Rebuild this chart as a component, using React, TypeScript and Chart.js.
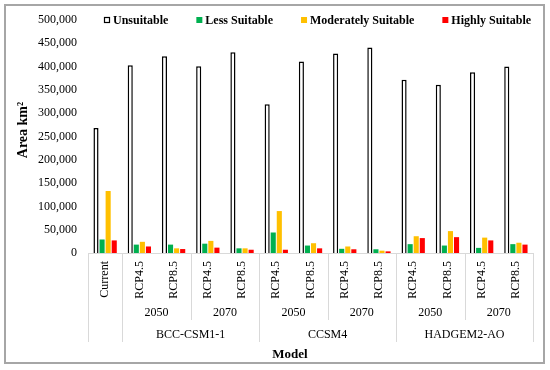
import React, { useEffect, useRef } from 'react';
import { Chart, registerables } from 'chart.js';

Chart.register(...registerables);

const categories = ['Current', 'RCP4.5', 'RCP8.5', 'RCP4.5', 'RCP8.5', 'RCP4.5', 'RCP8.5', 'RCP4.5', 'RCP8.5', 'RCP4.5', 'RCP8.5', 'RCP4.5', 'RCP8.5'];
const yearLabels = ['', '2050', '2050', '2070', '2070', '2050', '2050', '2070', '2070', '2050', '2050', '2070', '2070'];
const modelLabels = ['', 'BCC-CSM1-1', 'BCC-CSM1-1', 'BCC-CSM1-1', 'BCC-CSM1-1', 'CCSM4', 'CCSM4', 'CCSM4', 'CCSM4', 'HADGEM2-AO', 'HADGEM2-AO', 'HADGEM2-AO', 'HADGEM2-AO'];

const unsuitable = [268000, 403000, 422000, 401000, 431000, 319000, 411000, 428000, 441000, 372000, 361000, 388000, 400000];
const lessSuitable = [29000, 18000, 18000, 20000, 10000, 44000, 16000, 9000, 8000, 19000, 16000, 11000, 19000];
const moderatelySuitable = [133000, 24000, 10000, 26000, 10000, 90000, 21000, 14000, 5000, 36000, 47000, 33000, 22000];
const highlySuitable = [27000, 14000, 8500, 11500, 7000, 7000, 10000, 8000, 3500, 32000, 34000, 27000, 18000];

const seriesNames = ['Unsuitable', 'Less Suitable', 'Moderately Suitable', 'Highly Suitable'];
const seriesColors = ['#FFFFFF', '#00B050', '#FFC000', '#FF0000'];

const yAxisTitle = 'Area km²';
const xAxisTitle = 'Model';

const SERIF = '"Liberation Serif", "Times New Roman", serif';

const hierPlugin = {
  id: 'hier',
  afterDraw(chart: any) {
    const ctx = chart.ctx as CanvasRenderingContext2D;
    const xs = chart.scales.x;
    const area = chart.chartArea;
    const n = categories.length;
    const half = (xs.getPixelForValue(1) - xs.getPixelForValue(0)) / 2;
    const base = area.bottom;
    const yearBottom = base + 67;
    const modelBottom = base + 89;

    ctx.save();
    // separators
    ctx.strokeStyle = '#d9d9d9';
    ctx.lineWidth = 1;
    const vline = (x: number, bottom: number) => {
      ctx.beginPath();
      ctx.moveTo(Math.round(x) + 0.5, base);
      ctx.lineTo(Math.round(x) + 0.5, bottom);
      ctx.stroke();
    };
    vline(xs.getPixelForValue(0) - half, modelBottom);
    vline(xs.getPixelForValue(n - 1) + half, modelBottom);
    for (let i = 0; i < n - 1; i++) {
      const bx = xs.getPixelForValue(i) + half;
      if (modelLabels[i] !== modelLabels[i + 1]) vline(bx, modelBottom);
      else if (yearLabels[i] !== yearLabels[i + 1]) vline(bx, yearBottom);
    }

    // level 1 rotated labels
    ctx.fillStyle = '#000';
    ctx.font = `12px ${SERIF}`;
    for (let i = 0; i < n; i++) {
      ctx.save();
      ctx.translate(xs.getPixelForValue(i), base + 8);
      ctx.rotate(-Math.PI / 2);
      ctx.textAlign = 'right';
      ctx.textBaseline = 'middle';
      ctx.fillText(categories[i], 0, 0);
      ctx.restore();
    }

    // grouped labels
    const drawGroups = (labels: string[], y: number) => {
      let start = 0;
      for (let i = 1; i <= n; i++) {
        if (i === n || labels[i] !== labels[start] || (labels === yearLabels && modelLabels[i] !== modelLabels[start])) {
          if (labels[start]) {
            const cx = (xs.getPixelForValue(start) + xs.getPixelForValue(i - 1)) / 2;
            ctx.textAlign = 'center';
            ctx.textBaseline = 'middle';
            ctx.fillText(labels[start], cx, y);
          }
          start = i;
        }
      }
    };
    drawGroups(yearLabels, base + 60);
    drawGroups(modelLabels, base + 82);

    // x title
    ctx.font = `bold 13px ${SERIF}`;
    ctx.textAlign = 'center';
    ctx.textBaseline = 'middle';
    ctx.fillText(xAxisTitle, 290, base + 102);

    // y title
    ctx.save();
    ctx.translate(23, area.top + 110);
    ctx.rotate(-Math.PI / 2);
    ctx.font = `bold 14px ${SERIF}`;
    ctx.textAlign = 'center';
    ctx.textBaseline = 'middle';
    ctx.fillText(yAxisTitle, 0, 0);
    ctx.restore();

    // legend
    ctx.font = `bold 12px ${SERIF}`;
    ctx.textAlign = 'left';
    ctx.textBaseline = 'middle';
    let lx = 104;
    const ly = area.top;
    chart.data.datasets.forEach((ds: any, i: number) => {
      if (i === 0) {
        ctx.fillStyle = '#fff';
        ctx.fillRect(lx, ly - 3, 6, 6);
        ctx.strokeStyle = '#000';
        ctx.lineWidth = 1.2;
        ctx.strokeRect(lx + 0.5, ly - 2.5, 5, 5);
      } else {
        ctx.fillStyle = ds.backgroundColor;
        ctx.fillRect(lx, ly - 3, 6, 6);
      }
      ctx.fillStyle = '#000';
      ctx.fillText(ds.label, lx + 9, ly + 1);
      lx += 9 + ctx.measureText(ds.label).width + 28;
    });

    // frame
    ctx.strokeStyle = '#a6a6a6';
    ctx.lineWidth = 2;
    ctx.strokeRect(5, 5, 539, 358);
    ctx.restore();
  },
};

export default function App() {
  const ref = useRef<HTMLCanvasElement | null>(null);
  useEffect(() => {
    document.body.style.margin = '0';
    const series = [unsuitable, lessSuitable, moderatelySuitable, highlySuitable];
    const chart = new Chart(ref.current as HTMLCanvasElement, {
      type: 'bar',
      data: {
        labels: categories,
        datasets: series.map((d, i) => ({
          label: seriesNames[i],
          data: d,
          backgroundColor: seriesColors[i],
          borderColor: '#000',
          borderWidth: i === 0 ? 1.5 : 0,
          categoryPercentage: 0.71,
          barPercentage: 0.84,
        })),
      },
      options: {
        responsive: false,
        animation: false,
        layout: { padding: { left: 0, right: 17, top: 20, bottom: 117 } },
        plugins: { legend: { display: false }, tooltip: { enabled: false } },
        scales: {
          x: {
            grid: { display: false, drawTicks: false },
            border: { display: true, color: '#d9d9d9' },
            ticks: { display: false },
            afterFit: (s: any) => { s.height = 0; },
          },
          y: {
            min: 0,
            max: 500000,
            grid: { display: false, drawTicks: false },
            border: { display: false },
            ticks: {
              stepSize: 50000,
              padding: 11,
              color: '#000',
              font: { family: SERIF, size: 12 },
              callback: (v: any) => Number(v).toLocaleString('en-US'),
            },
            afterFit: (s: any) => { s.width = 88; },
          },
        },
      },
      plugins: [hierPlugin],
    });
    return () => chart.destroy();
  }, []);
  return (
    <div style={{ width: 550, height: 370, overflow: 'hidden', background: '#fff' }}>
      <canvas ref={ref} width={550} height={370} />
    </div>
  );
}
